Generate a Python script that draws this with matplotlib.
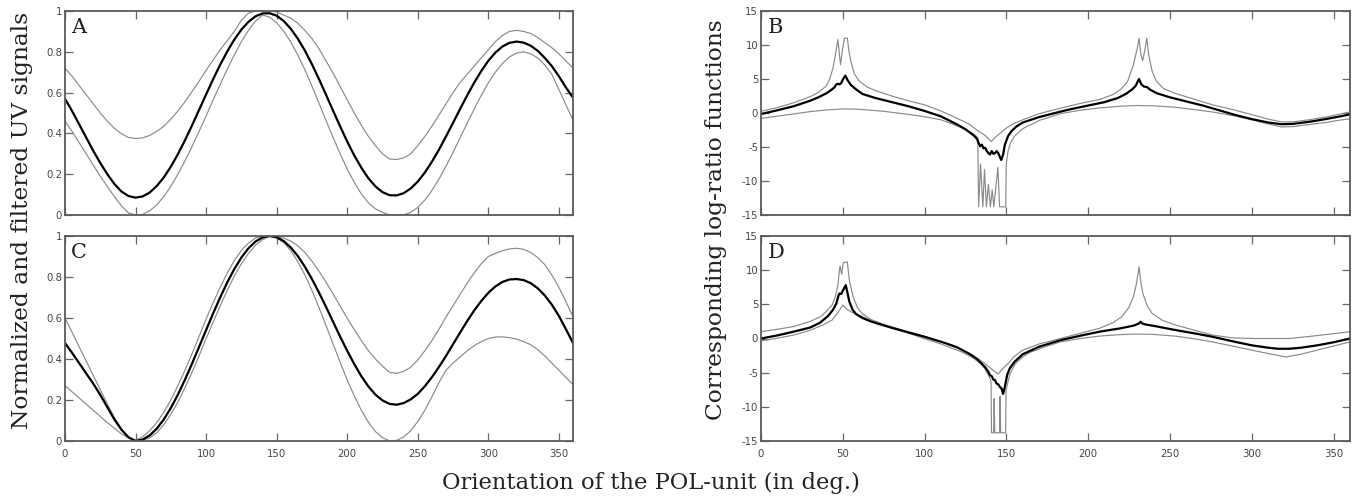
import matplotlib
matplotlib.use("Agg")
import matplotlib.pyplot as plt
import numpy as np

plt.rcParams['axes.unicode_minus'] = False
plt.rcParams['font.family'] = ['DejaVu Sans']

# ---------------- data ----------------
theta = list(range(0, 361, 5))   # orientation grid for panels A and C (deg)

A_mean = [0.57, 0.51, 0.445, 0.38, 0.315, 0.255, 0.2, 0.152, 0.115, 0.093,
          0.085, 0.091, 0.11, 0.142, 0.184, 0.237, 0.298, 0.366, 0.439, 0.515,
          0.591, 0.666, 0.737, 0.802, 0.86, 0.909, 0.947, 0.974, 0.988, 0.989,
          0.977, 0.951, 0.913, 0.864, 0.806, 0.739, 0.666, 0.589, 0.511, 0.434,
          0.36, 0.292, 0.232, 0.18, 0.14, 0.112, 0.097, 0.096, 0.107, 0.13,
          0.164, 0.208, 0.261, 0.32, 0.385, 0.452, 0.52, 0.586, 0.649, 0.706,
          0.756, 0.796, 0.826, 0.844, 0.85, 0.845, 0.83, 0.805, 0.77, 0.73,
          0.68, 0.625, 0.575]
A_upper = [0.72, 0.68, 0.635, 0.59, 0.545, 0.5, 0.46, 0.425, 0.398, 0.38,
           0.375, 0.378, 0.39, 0.41, 0.435, 0.47, 0.51, 0.555, 0.605, 0.655,
           0.71, 0.76, 0.81, 0.855, 0.9, 0.955, 0.99, 1.0, 1.0, 1.0,
           0.995, 0.98, 0.965, 0.94, 0.905, 0.865, 0.815, 0.755, 0.695, 0.63,
           0.565, 0.5, 0.44, 0.385, 0.34, 0.3, 0.275, 0.272, 0.28, 0.3,
           0.34, 0.385, 0.435, 0.49, 0.545, 0.6, 0.65, 0.69, 0.73, 0.77,
           0.81, 0.85, 0.88, 0.9, 0.905, 0.9, 0.89, 0.87, 0.845, 0.82,
           0.79, 0.755, 0.72]
A_lower = [0.46, 0.41, 0.355, 0.3, 0.245, 0.19, 0.14, 0.09, 0.045, 0.01,
           0.0, 0.003, 0.02, 0.05, 0.09, 0.14, 0.2, 0.265, 0.335, 0.41,
           0.485, 0.565, 0.64, 0.715, 0.785, 0.85, 0.905, 0.95, 0.98, 0.97,
           0.942, 0.901, 0.848, 0.784, 0.712, 0.632, 0.548, 0.463, 0.38, 0.3,
           0.225, 0.16, 0.103, 0.06, 0.03, 0.013, 0.0, 0.0, 0.001, 0.013,
           0.037, 0.073, 0.12, 0.176, 0.239, 0.307, 0.378, 0.45, 0.52, 0.587,
           0.648, 0.7, 0.743, 0.775, 0.794, 0.8, 0.79, 0.77, 0.735, 0.69,
           0.615, 0.54, 0.465]

C_mean = [0.478, 0.43, 0.38, 0.33, 0.28, 0.225, 0.165, 0.105, 0.055, 0.018,
          0.0, 0.007, 0.027, 0.06, 0.105, 0.161, 0.226, 0.299, 0.377, 0.459,
          0.541, 0.623, 0.701, 0.774, 0.839, 0.895, 0.94, 0.973, 0.993, 1.0,
          0.994, 0.975, 0.944, 0.902, 0.85, 0.79, 0.724, 0.654, 0.581, 0.509,
          0.44, 0.375, 0.316, 0.266, 0.226, 0.198, 0.181, 0.177, 0.185, 0.203,
          0.23, 0.267, 0.311, 0.361, 0.415, 0.472, 0.529, 0.585, 0.637, 0.683,
          0.723, 0.754, 0.776, 0.788, 0.79, 0.785, 0.77, 0.745, 0.71, 0.665,
          0.61, 0.545, 0.478]
C_upper = [0.6, 0.53, 0.46, 0.39, 0.32, 0.25, 0.18, 0.115, 0.06, 0.018,
           0.003, 0.02, 0.05, 0.09, 0.14, 0.2, 0.27, 0.345, 0.425, 0.51,
           0.595, 0.675, 0.75, 0.82, 0.88, 0.93, 0.965, 0.99, 1.0, 0.999,
           0.998, 0.99, 0.975, 0.952, 0.92, 0.877, 0.828, 0.775, 0.717, 0.658,
           0.599, 0.543, 0.49, 0.441, 0.4, 0.365, 0.335, 0.33, 0.34, 0.36,
           0.395, 0.44, 0.49, 0.545, 0.605, 0.66, 0.715, 0.77, 0.82, 0.865,
           0.9, 0.915, 0.928, 0.937, 0.94, 0.935, 0.92, 0.895, 0.86, 0.81,
           0.75, 0.68, 0.605]
C_lower = [0.27, 0.24, 0.21, 0.18, 0.15, 0.12, 0.09, 0.062, 0.035, 0.015,
           0.003, 0.002, 0.015, 0.04, 0.08, 0.13, 0.19, 0.26, 0.335, 0.415,
           0.5, 0.58, 0.66, 0.735, 0.805, 0.865, 0.915, 0.955, 0.982, 1.0,
           0.992, 0.968, 0.929, 0.875, 0.81, 0.734, 0.651, 0.563, 0.473, 0.384,
           0.298, 0.22, 0.15, 0.092, 0.046, 0.016, 0.001, 0.003, 0.02, 0.05,
           0.095, 0.15, 0.215, 0.285, 0.345, 0.38, 0.41, 0.44, 0.465, 0.485,
           0.5, 0.507, 0.508, 0.504, 0.497, 0.485, 0.47, 0.445, 0.415, 0.38,
           0.345, 0.31, 0.275]

# Panel B (log-ratio), each series with its own orientation samples
B_mean_x = [0, 10, 20, 30, 35, 40, 43, 45, 46, 47, 48, 49, 50, 51.5, 53, 55, 58, 62, 70, 80,
            90, 100, 110, 120, 125, 130, 132, 133, 134, 135, 136, 137, 138, 139, 140, 141,
            142, 143, 144, 145, 146.8, 148, 149, 151, 153, 156, 160, 170, 183, 190, 200,
            210, 218, 223, 227, 229, 231, 232.5, 234, 236, 238, 242, 250, 260, 270, 280, 290,
            300, 310, 318, 325, 335, 345, 355, 360]
B_mean_y = [-0.15, 0.4, 1.0, 1.8, 2.3, 2.9, 3.4, 3.8, 4.2, 4.3, 4.2, 4.4, 4.9, 5.5, 4.8, 4.1, 3.5,
            2.8, 2.2, 1.6, 1.0, 0.3, -0.5, -1.7, -2.4, -3.3, -3.8, -4.4, -4.9, -4.65, -5.2,
            -5.1, -5.6, -5.9, -6.1, -5.6, -6.0, -5.9, -5.6, -5.9, -6.9, -6.1, -4.7, -3.4, -2.7,
            -2.0, -1.4, -0.6, 0.2, 0.6, 1.1, 1.6, 2.2, 2.8, 3.5, 4.0, 5.0, 4.2, 3.9, 3.8,
            3.4, 2.9, 2.3, 1.7, 1.1, 0.4, -0.3, -0.9, -1.4, -1.65, -1.6, -1.3, -0.9, -0.45, -0.2]
B_upper_x = [0, 10, 20, 30, 35, 40, 42, 44, 45.5, 47, 48.6, 49.6, 51, 52.8, 53.8, 55, 57, 60, 65,
             71, 80, 90, 100, 110, 120, 127, 133, 137, 140.7, 143, 146, 150, 155, 160, 170, 183,
             195, 207, 215, 220, 224, 227.5, 230, 231, 232.3, 233.3, 234.8, 235.8, 237, 239,
             241.6, 246, 253, 265, 276, 290, 300, 310, 318, 325, 335, 345, 355, 360]
B_upper_y = [0.25, 0.8, 1.5, 2.4, 3.0, 4.0, 5.0, 6.6, 8.6, 10.8, 7.1, 9.0, 11.0, 11.0, 9.0, 7.5,
             5.8, 4.7, 3.8, 3.2, 2.5, 1.8, 1.2, 0.3, -0.8, -1.6, -2.7, -3.3, -4.2, -3.6, -3.0,
             -2.2, -1.5, -1.0, -0.1, 0.7, 1.4, 2.0, 2.7, 3.5, 4.6, 7.0, 9.5, 11.0, 8.5, 7.7,
             9.5, 11.0, 8.5, 6.2, 4.7, 3.6, 2.9, 2.0, 1.2, 0.4, -0.25, -0.9, -1.3, -1.3, -1.0,
             -0.6, -0.1, 0.15]
B_lower_x = [0, 15, 30, 40, 50, 60, 75, 90, 100, 110, 120, 126, 130, 132.5, 133, 134.2, 135.6,
             136.6, 137.8, 139, 140.2, 141.3, 142.3, 144.8, 145.8, 149.6, 149.9, 151, 152.5, 155,
             160, 170, 183, 195, 207, 220, 230, 240, 253, 265, 276, 290, 300, 310, 318, 325, 335,
             345, 355, 360]
B_lower_y = [-0.8, -0.3, 0.2, 0.45, 0.6, 0.55, 0.25, -0.2, -0.55, -1.0, -1.9, -2.5, -3.1, -3.6,
             -13.8, -7.5, -13.8, -8.3, -13.8, -10.5, -13.8, -11.3, -13.8, -8.0, -13.8, -13.8,
             -7.5, -5.6, -4.4, -3.4, -2.3, -1.1, -0.1, 0.4, 0.75, 1.0, 1.1, 1.05, 0.85, 0.5,
             0.15, -0.45, -1.0, -1.6, -2.05, -2.0, -1.7, -1.4, -1.0, -0.85]

# Panel D (log-ratio)
D_mean_x = [0, 10, 20, 30, 36, 41, 44, 46, 47.4, 48, 49, 50, 51.8, 53, 54, 56, 58, 62, 67, 78,
            90, 100, 113, 120, 127, 132, 137, 139, 140, 141, 142, 143, 144, 145, 146, 147, 148,
            149, 150.5, 152, 155, 160, 170, 183, 195, 207, 220, 228, 231, 232, 233, 235, 240,
            253, 265, 276, 290, 300, 310, 316, 323, 330, 340, 350, 360]
D_mean_y = [0.0, 0.45, 1.0, 1.6, 2.3, 3.3, 4.2, 5.1, 6.3, 6.6, 6.5, 7.0, 7.8, 6.5, 5.4, 4.2, 3.6,
            3.0, 2.5, 1.7, 0.9, 0.25, -0.7, -1.3, -2.2, -3.0, -4.2, -4.9, -5.4, -5.5, -6.0,
            -6.1, -6.6, -6.7, -7.1, -7.3, -8.1, -7.1, -5.3, -4.4, -3.4, -2.3, -1.2, -0.25, 0.4,
            1.0, 1.5, 1.9, 2.2, 2.45, 2.2, 2.05, 1.85, 1.25, 0.75, 0.25, -0.5, -1.0, -1.35,
            -1.5, -1.5, -1.35, -1.0, -0.55, 0.0]
D_upper_x = [0, 10, 20, 30, 36.5, 40, 43.5, 45.5, 47, 47.7, 48.3, 49.3, 50.3, 52.8, 53.5, 54.2,
             56.3, 59, 62, 68, 76, 88, 99.5, 112, 123, 130, 137, 141, 144.9, 147, 150.8, 155,
             160, 170, 183, 195, 207, 215, 220.6, 225, 227.6, 229.5, 231.1, 232.3, 233.4, 236,
             239, 245, 253, 265, 276, 288, 300, 323, 335, 348, 360]
D_upper_y = [1.0, 1.35, 1.75, 2.5, 3.2, 4.0, 4.9, 6.2, 7.8, 9.5, 10.6, 9.4, 11.1, 11.2, 9.5, 8.3,
             6.1, 4.5, 3.6, 2.7, 2.0, 1.1, 0.35, -0.6, -1.7, -2.5, -3.7, -4.5, -5.2, -4.6, -3.7,
             -2.6, -1.7, -0.8, 0.0, 0.75, 1.5, 2.3, 3.2, 4.6, 6.1, 8.0, 10.5, 8.0, 6.6, 4.8, 3.7,
             2.7, 2.0, 1.2, 0.5, 0.1, 0.0, 0.0, 0.3, 0.65, 1.0]
D_lower_x = [0, 10, 20, 30, 38, 43.5, 47, 50, 52, 55, 57.5, 62, 67, 80, 90, 99.5, 110, 123, 130,
             134.4, 137, 139.5, 140.6, 140.9, 142.2, 142.5, 142.9, 145.8, 146.1, 146.5, 149.5,
             149.8, 150.7, 152, 155.4, 160, 164.7, 175, 183, 195, 207, 218, 230, 240, 253, 265,
             276, 290, 300, 310, 321, 330, 340, 350, 360]
D_lower_y = [-0.35, 0.05, 0.5, 1.2, 2.0, 2.7, 3.8, 4.9, 4.4, 3.9, 3.6, 3.2, 2.7, 1.5, 0.8, 0.0,
             -0.8, -2.0, -2.9, -3.7, -4.5, -5.6, -6.3, -13.8, -13.8, -8.8, -13.8, -13.8, -8.5,
             -13.8, -13.8, -7.5, -6.6, -5.3, -3.7, -2.7, -2.0, -1.1, -0.5, 0.0, 0.35, 0.55, 0.65,
             0.6, 0.35, -0.05, -0.5, -1.2, -1.7, -2.2, -2.7, -2.3, -1.7, -1.1, -0.5]

panel_letters = ['A', 'B', 'C', 'D']
x_ticks = [0, 50, 100, 150, 200, 250, 300, 350]
signal_ticks = [0, 0.2, 0.4, 0.6, 0.8, 1]
signal_ticklabels = ['0', '0.2', '0.4', '0.6', '0.8', '1']
logratio_ticks = [-15, -10, -5, 0, 5, 10, 15]

# ---------------- style ----------------
W, H = 1365, 503
fig = plt.figure(figsize=(W / 100, H / 100), dpi=100)

def rect(l, t, r, b):
    return [l / W, 1 - b / H, (r - l) / W, (b - t) / H]

axA = fig.add_axes(rect(65, 11, 573, 215))
axB = fig.add_axes(rect(761, 11, 1350, 215))
axC = fig.add_axes(rect(65, 236, 573, 441))
axD = fig.add_axes(rect(761, 236, 1350, 441))

thin = dict(color='#8a8a8a', lw=0.85)
thick = dict(color='black', lw=1.6)
serif = 'DejaVu Serif'

def style(ax, letter, ylim, yticks, yticklabels, show_x):
    ax.set_xlim(0, 360)
    ax.set_ylim(*ylim)
    ax.set_xticks(x_ticks)
    ax.set_yticks(yticks)
    ax.set_yticklabels(yticklabels)
    if not show_x:
        ax.set_xticklabels([])
    ax.tick_params(direction='in', top=True, right=True, length=6, width=0.9,
                   color='#666666', labelsize=7.3, labelcolor='#444444')
    ax.tick_params(axis='y', pad=2)
    ax.tick_params(axis='x', pad=6)
    for s in ax.spines.values():
        s.set_color('#5a5a5a')
        s.set_linewidth(1.3)
    ax.text(0.012, 0.965, letter, transform=ax.transAxes, ha='left', va='top',
            fontsize=15, family=serif, color='#222222')

for ax, m, u, l in [(axA, A_mean, A_upper, A_lower), (axC, C_mean, C_upper, C_lower)]:
    ax.plot(theta, u, **thin)
    ax.plot(theta, l, **thin)
    ax.plot(theta, m, **thick)

axB.plot(B_upper_x, B_upper_y, **thin)
axB.plot(B_lower_x, B_lower_y, **thin)
axB.plot(B_mean_x, B_mean_y, **thick)
axD.plot(D_upper_x, D_upper_y, **thin)
axD.plot(D_lower_x, D_lower_y, **thin)
axD.plot(D_mean_x, D_mean_y, **thick)

style(axA, panel_letters[0], (0, 1), signal_ticks, signal_ticklabels, False)
style(axB, panel_letters[1], (-15, 15), logratio_ticks, [str(t) for t in logratio_ticks], False)
style(axC, panel_letters[2], (0, 1), signal_ticks, signal_ticklabels, True)
style(axD, panel_letters[3], (-15, 15), logratio_ticks, [str(t) for t in logratio_ticks], True)

fig.text(22 / W, 1 - 220 / H, 'Normalized and filtered UV signals', rotation=90,
         ha='center', va='center', fontsize=16.8, family=serif, color='#222222')
fig.text(716 / W, 1 - 220 / H, 'Corresponding log-ratio functions', rotation=90,
         ha='center', va='center', fontsize=16.8, family=serif, color='#222222')
fig.text(651 / W, 1 - 483 / H, 'Orientation of the POL-unit (in deg.)',
         ha='center', va='center', fontsize=16.3, family=serif, color='#222222')

fig.savefig('out.png', dpi=100)
